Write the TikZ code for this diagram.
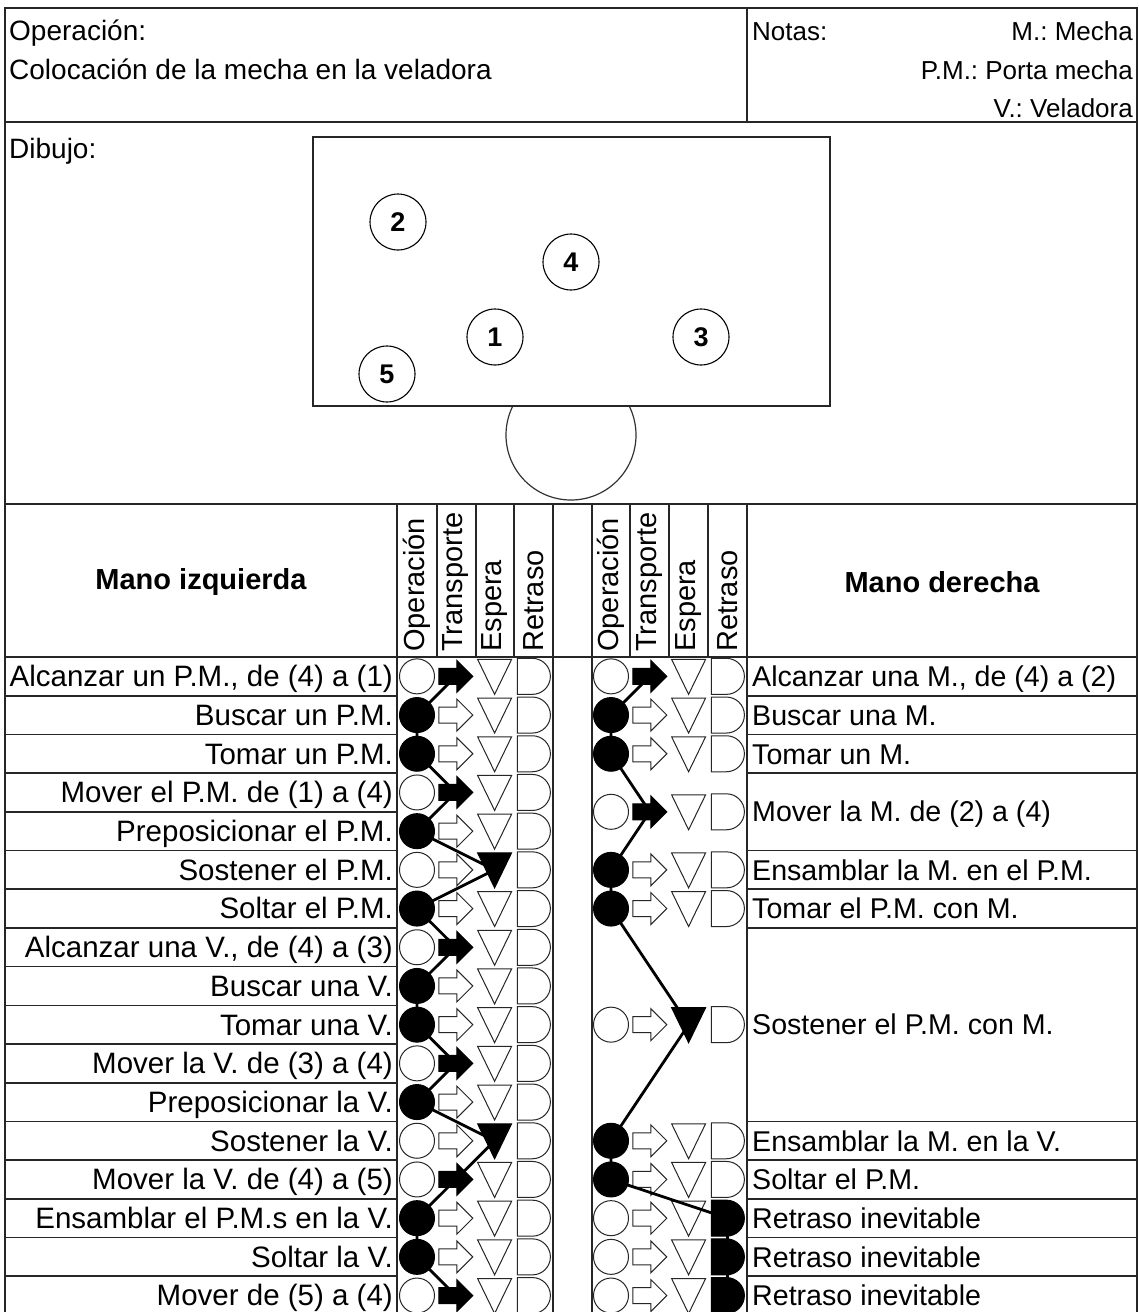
\documentclass[tikz,border=0pt]{standalone}
\usepackage{fontspec}
\setmainfont{Liberation Sans}
\frenchspacing
\newcommand\symrow[3]{%
  \ifnum#3=0 \def\symA{symon}\else\def\symA{symoff}\fi
  \ifnum#3=1 \def\symB{symon}\else\def\symB{symoff}\fi
  \ifnum#3=2 \def\symC{symon}\else\def\symC{symoff}\fi
  \ifnum#3=3 \def\symD{symon}\else\def\symD{symoff}\fi
  \path[\symA] (#1,#2) circle[radius=17.5];
  \begin{scope}[shift={({#1+38.8},#2)}]
    \path[\symB] (-17,-8) -- (1,-8) -- (1,-16) -- (17,0) -- (1,16) -- (1,8) -- (-17,8) -- cycle;
  \end{scope}
  \begin{scope}[shift={({#1+77.6},#2)}]
    \path[\symC] (-17,-17) -- (17,-17) -- (0,18) -- cycle;
  \end{scope}
  \begin{scope}[shift={({#1+116.4},#2)}]
    \path[\symD] (-16,-18) -- (-1,-18) arc[start angle=-90,end angle=90,radius=18] -- (-16,18) -- cycle;
  \end{scope}
}
\begin{document}
\begin{tikzpicture}[x=1pt,y=-1pt,
  grid/.style={line width=1.6pt, draw=black!85},
  symoff/.style={line width=1pt, draw=black!85},
  symon/.style={line width=1pt, draw=black, fill=black},
  conn/.style={line width=2.8pt, black, line join=round},
  txt/.style={inner sep=0pt, font=\fontsize{29.5}{34}\selectfont},
  rtxt/.style={inner sep=0pt, font=\fontsize{28.6}{34}\selectfont},
  toptxt/.style={inner sep=0pt, font=\fontsize{28}{34}\selectfont},
  notetxt/.style={inner sep=0pt, font=\fontsize{26}{34}\selectfont},
  hdr/.style={inner sep=0pt, font=\fontsize{29}{34}\selectfont\bfseries},
  rot/.style={inner sep=0pt, font=\fontsize{29}{34}\selectfont, rotate=90, anchor=west},
  num/.style={circle, draw, line width=1.1pt, minimum size=56pt, inner sep=0pt, font=\fontsize{27}{30}\selectfont\bfseries},
]
\useasboundingbox (0,0) rectangle (1139,1312);
\clip (0,0) rectangle (1139,1312);
\fill[white] (0,0) rectangle (1139,1312);

% ---------- top section ----------
\draw[grid] (5,1320) -- (5,8) -- (1137,8) -- (1137,1320);
\draw[grid] (5,122) -- (1137,122);
\draw[grid] (747,8) -- (747,122);
\node[toptxt, anchor=base west] (op)   at (9,40)  {Operación:};
\node[toptxt, anchor=base west] (opt)  at (9,79)  {Colocación de la mecha en la veladora};
\node[notetxt, anchor=base west] (nt)   at (752,40) {Notas:};
\node[notetxt, anchor=base east] (nt1)  at (1133,40) {M.: Mecha};
\node[notetxt, anchor=base east] (nt2)  at (1133,79) {P.M.: Porta mecha};
\node[notetxt, anchor=base east] (nt3)  at (1133,117) {V.: Veladora};

% ---------- drawing ----------
\node[toptxt, anchor=base west] (dib) at (9,158) {Dibujo:};
\draw[line width=1.2pt, black!80] (571,435) circle[radius=65];
\draw[line width=1.6pt, black!85, fill=white] (313,137) rectangle (830,406);
\node[num] (p2) at (398,222) {2};
\node[num] (p4) at (571,262) {4};
\node[num] (p1) at (495,337) {1};
\node[num] (p3) at (701,337) {3};
\node[num] (p5) at (387,374) {5};

% ---------- table grid ----------
\draw[grid] (5,504) -- (1137,504);
\draw[grid] (5,657) -- (1137,657);
\foreach \x in {397,553,592,747} \draw[grid] (\x,504) -- (\x,1320);
\foreach \x in {437,476,514,630,669,708} \draw[grid] (\x,504) -- (\x,657);
\foreach \i in {1,...,16} \draw[grid] (5,{657+38.7*\i}) -- (397,{657+38.7*\i});
\foreach \i in {1,2,3,5,6,7,12,13,14,15,16} \draw[grid] (747,{657+38.7*\i}) -- (1137,{657+38.7*\i});

% ---------- header ----------
\node[hdr] (mi) at (201,582) {Mano izquierda};
\node[hdr] (md) at (942,582) {Mano derecha};
\node[rot] (h1) at (417,652) {Operación};
\node[rot] (h2) at (456,652) {Transporte};
\node[rot] (h3) at (495,652) {Espera};
\node[rot] (h4) at (533.5,652) {Retraso};
\node[rot] (h5) at (611,652) {Operación};
\node[rot] (h6) at (649.5,652) {Transporte};
\node[rot] (h7) at (688.5,652) {Espera};
\node[rot] (h8) at (727.5,652) {Retraso};

% ---------- left symbols ----------
\foreach \i/\s in {1/1,2/0,3/0,4/1,5/0,6/2,7/0,8/1,9/0,10/0,11/1,12/0,13/2,14/1,15/0,16/0,17/1}{
  \pgfmathsetmacro\cy{657+38.7*(\i-0.5)}
  \symrow{417}{\cy}{\s}
  \coordinate (L\i) at ({417+38.8*\s},\cy);
}
% ---------- right symbols ----------
\foreach \y/\s [count=\k] in {676.35/1,715.05/0,753.75/0,811.8/1,869.85/0,908.55/0,1024.65/2,1140.75/0,1179.45/0,1218.15/3,1256.85/3,1295.55/3}{
  \symrow{611}{\y}{\s}
  \coordinate (R\k) at ({611+38.8*\s},\y);
}

% ---------- connectors ----------
\draw[conn] (L1) -- (L2) -- (L3) -- (L4) -- (L5) -- (L6) -- (L7) -- (L8) -- (L9) -- (L10) -- (L11) -- (L12) -- (L13) -- (L14) -- (L15) -- (L16) -- (L17);
\draw[conn] (R1) -- (R2) -- (R3) -- (R4) -- (R5) -- (R6) -- (R7) -- (R8) -- (R9) -- (R10) -- (R11) -- (R12);

% ---------- left texts ----------
\foreach \i/\t in {1/{Alcanzar un P.M., de (4) a (1)}, 2/{Buscar un P.M.}, 3/{Tomar un P.M.},
  4/{Mover el P.M. de (1) a (4)}, 5/{Preposicionar el P.M.}, 6/{Sostener el P.M.}, 7/{Soltar el P.M.},
  8/{Alcanzar una V., de (4) a (3)}, 9/{Buscar una V.}, 10/{Tomar una V.}, 11/{Mover la V. de (3) a (4)},
  12/{Preposicionar la V.}, 13/{Sostener la V.}, 14/{Mover la V. de (4) a (5)},
  15/{Ensamblar el P.M.s en la V.}, 16/{Soltar la V.}, 17/{Mover de (5) a (4)}}
  \node[txt, anchor=base east] (lt\i) at (393,{648+38.7*\i}) {\t};

% ---------- right texts ----------
\node[rtxt, anchor=base west] (rt1) at (752,686.7) {Alcanzar una M., de (4) a (2)};
\node[rtxt, anchor=base west] (rt2) at (752,725.4) {Buscar una M.};
\node[rtxt, anchor=base west] (rt3) at (752,764.1) {Tomar un M.};
\node[rtxt, anchor=base west] (rt4) at (752,821.8) {Mover la M. de (2) a (4)};
\node[rtxt, anchor=base west] (rt5) at (752,880.2) {Ensamblar la M. en el P.M.};
\node[rtxt, anchor=base west] (rt6) at (752,918.9) {Tomar el P.M. con M.};
\node[rtxt, anchor=base west] (rt7) at (752,1034.65) {Sostener el P.M. con M.};
\node[rtxt, anchor=base west] (rt8) at (752,1151.1) {Ensamblar la M. en la V.};
\node[rtxt, anchor=base west] (rt9) at (752,1189.8) {Soltar el P.M.};
\node[rtxt, anchor=base west] (rt10) at (752,1228.5) {Retraso inevitable};
\node[rtxt, anchor=base west] (rt11) at (752,1267.2) {Retraso inevitable};
\node[rtxt, anchor=base west] (rt12) at (752,1305.9) {Retraso inevitable};
\end{tikzpicture}
\end{document}
